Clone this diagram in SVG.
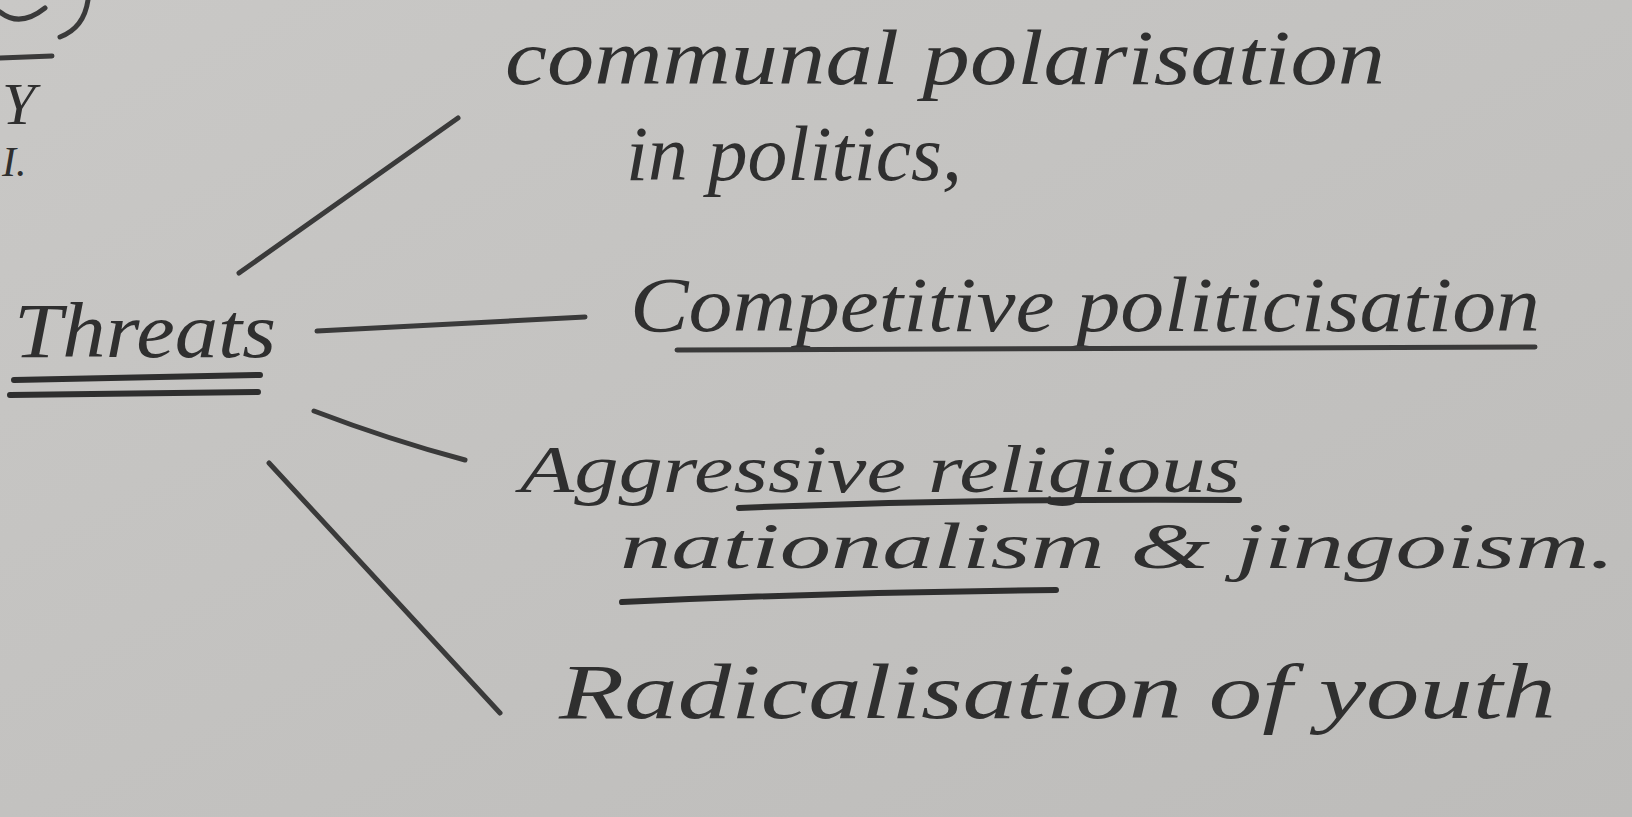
<svg xmlns="http://www.w3.org/2000/svg" width="1632" height="817" viewBox="0 0 1632 817">
  <defs>
    <linearGradient id="paper" x1="0" y1="0" x2="1" y2="1">
      <stop offset="0" stop-color="#c9c8c6"/>
      <stop offset="1" stop-color="#bdbcba"/>
    </linearGradient>
    <style>
      .hw { font-family: "Liberation Serif", "DejaVu Serif", serif; font-style: italic; fill: #2f2f2f; font-size: 78px; }
      .stroke { fill: none; stroke: #3a3a3a; stroke-width: 5; stroke-linecap: round; }
      .ul { fill: none; stroke: #2e2e2e; stroke-width: 6; stroke-linecap: round; }
    </style>
  </defs>
  <rect width="1632" height="817" fill="url(#paper)"/>

  <g id="margin">
    <path class="stroke" d="M0,12 Q20,28 45,8 M88,0 Q84,28 60,37"/>
    <line class="stroke" x1="0" y1="58" x2="52" y2="56"/>
    <text class="hw" x="2" y="124" style="font-size:60px">Y</text>
    <text class="hw" x="2" y="176" style="font-size:42px">I.</text>
  </g>

  <g id="connectors">
    <line class="stroke" x1="239" y1="273" x2="458" y2="118"/>
    <line class="stroke" x1="317" y1="331" x2="585" y2="317"/>
    <path class="stroke" d="M314,411 Q390,440 465,460"/>
    <line class="stroke" x1="269" y1="463" x2="500" y2="713"/>
  </g>

  <g id="threats">
    <text class="hw" x="14" y="357" textLength="262" lengthAdjust="spacingAndGlyphs">Threats</text>
    <line class="ul" x1="14" y1="380" x2="260" y2="375"/>
    <line class="ul" x1="10" y1="395" x2="258" y2="392"/>
  </g>

  <g id="communal">
    <text class="hw" x="505" y="84" textLength="880" lengthAdjust="spacingAndGlyphs">communal polarisation</text>
    <text class="hw" x="626" y="180" textLength="336" lengthAdjust="spacingAndGlyphs">in politics,</text>
  </g>

  <g id="competitive">
    <text class="hw" x="630" y="331" textLength="910" lengthAdjust="spacingAndGlyphs">Competitive politicisation</text>
    <line class="stroke" x1="677" y1="350" x2="1535" y2="347" stroke-width="4"/>
  </g>

  <g id="aggressive">
    <text class="hw" x="520" y="492" style="font-size:67px" textLength="720" lengthAdjust="spacingAndGlyphs">Aggressive religious</text>
    <path class="ul" d="M739,508 Q990,498 1239,500"/>
    <text class="hw" x="620" y="568" style="font-size:66px" textLength="995" lengthAdjust="spacingAndGlyphs">nationalism &amp; jingoism.</text>
    <path class="ul" d="M622,602 Q840,592 1056,590"/>
  </g>

  <g id="radicalisation">
    <text class="hw" x="559" y="718" textLength="997" lengthAdjust="spacingAndGlyphs">Radicalisation of youth</text>
  </g>
</svg>
